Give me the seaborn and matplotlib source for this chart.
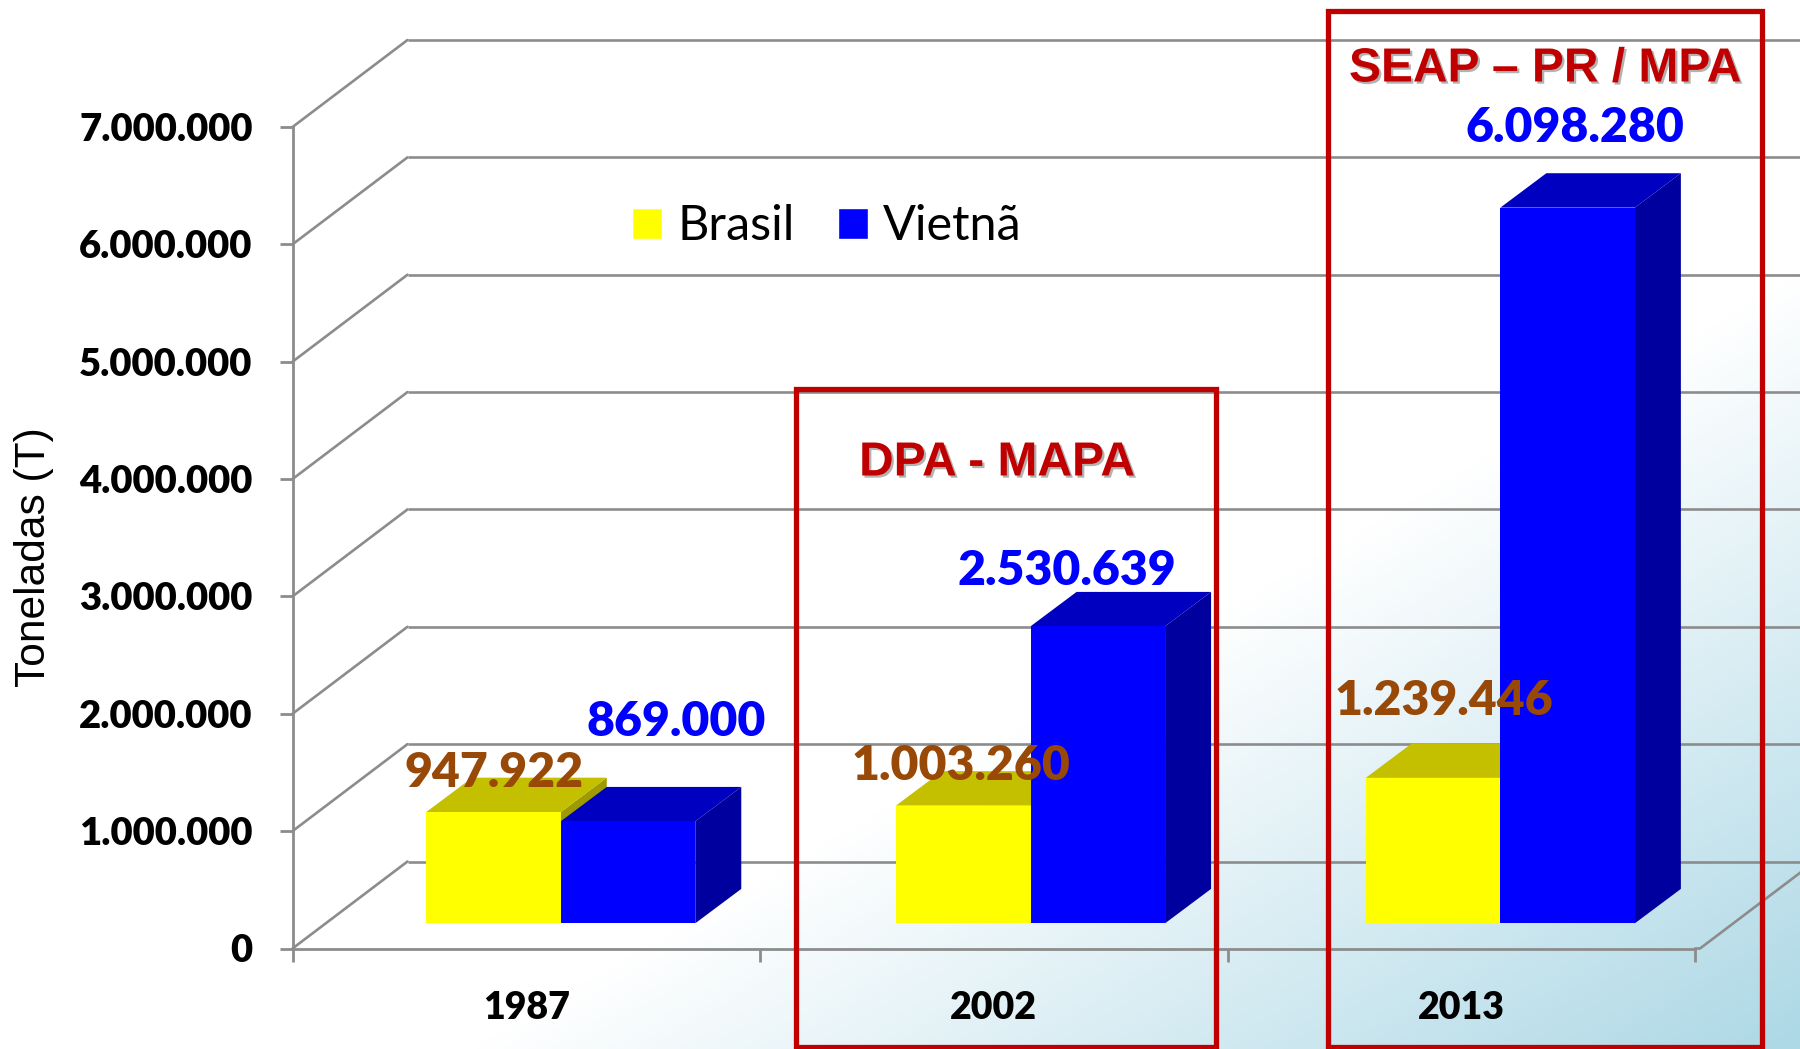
import numpy as np
import pandas as pd
import seaborn as sns
import matplotlib
matplotlib.use("Agg")
import matplotlib.pyplot as plt
import matplotlib.patheffects as pe
from matplotlib.patches import Polygon, Rectangle
from matplotlib.lines import Line2D
from matplotlib.transforms import Affine2D, IdentityTransform
from matplotlib.colors import LinearSegmentedColormap

# ---- data ----
years = ["1987", "2002", "2013"]
brasil = [947922, 1003260, 1239446]
vietna = [869000, 2530639, 6098280]
series_names = ["Brasil", "Vietnã"]
y_ticks = [0, 1000000, 2000000, 3000000, 4000000, 5000000, 6000000, 7000000]
y_title = "Toneladas (T)"
box_titles = ["DPA - MAPA", "SEAP – PR / MPA"]

# ---- style ----
W, H = 1800, 1049
sns.set_theme(style="white")
plt.rcParams["font.family"] = ["Lato", "DejaVu Sans"]
GRID = "#8C8C8C"
RED = "#C00000"
BROWN = "#984807"
BLUE = "#0000FF"
YEL = "#FFFF00"
HEAVY = "heavy"
FACE_DARK = {"#FFFF00": ("#C4C000", "#9E9B00"), "#0000FF": ("#0000C0", "#00009E")}

fig = plt.figure(figsize=(W / 100, H / 100), dpi=100)


def px(x, y):
    """reference pixel (from top-left) -> display coordinates"""
    return x, H - y


# background gradient
bg = fig.add_axes([0, 0, 1, 1], zorder=0)
xx, yy = np.meshgrid(np.linspace(0, 1, 450), np.linspace(0, 1, 262))
t = np.clip(((xx + yy) / 2 - 0.63) / 0.37, 0, 1)
cmap = LinearSegmentedColormap.from_list("bg", ["#FFFFFF", "#ADD8E6"])
bg.imshow(t, cmap=cmap, extent=(0, 1, 1, 0), aspect="auto", vmin=0, vmax=1)
bg.axis("off")

# main axes = front plane of the 3-D box
L, R, T, B = 292.5, 1695, 127, 948.5
ax = fig.add_axes([L / W, 1 - B / H, (R - L) / W, (B - T) / H], zorder=1)
ax.patch.set_alpha(0)

df = pd.DataFrame({
    "Ano": years * 2,
    "Toneladas": brasil + vietna,
    "País": [series_names[0]] * 3 + [series_names[1]] * 3,
})
sns.barplot(data=df, x="Ano", y="Toneladas", hue="País", order=years,
            hue_order=series_names, palette=[YEL, BLUE], saturation=1,
            width=0.5755, gap=0, ax=ax, edgecolor="none", linewidth=0)
ax.set_xlim(-0.5, 2.5)
ax.set_ylim(0, 7000000)
ax.set_yticks(y_ticks)
ax.set_yticklabels([f"{v:,}".replace(",", ".") for v in y_ticks],
                   fontsize=27.5, fontweight=HEAVY, color="black")
ax.set_xticks([-0.5, 0.5, 1.5, 2.5], minor=False)
ax.set_xticklabels([])
ax.set_xticks([0, 1, 2], minor=True)
ax.set_xticklabels(years, minor=True, fontsize=27, fontweight=HEAVY, color="black")
ax.tick_params(axis="x", which="major", length=9.4, width=2, color=GRID, bottom=True)
ax.tick_params(axis="x", which="minor", length=0, pad=30.5, bottom=True)
ax.tick_params(axis="y", length=9.4, width=2, color=GRID, pad=19.3, left=True)
ax.set_xlabel("")
ax.set_ylabel(y_title, fontsize=30.6, family="Liberation Sans", color="black")
ax.yaxis.set_label_coords((54 - L) / (R - L), (B - 557.5) / (B - T))
for s in ("top", "right"):
    ax.spines[s].set_visible(False)
for s in ("left", "bottom"):
    ax.spines[s].set_color(GRID)
    ax.spines[s].set_linewidth(2)

# 3-D wall geometry
DEPTH_X, DEPTH_Y = 115, 87          # front plane -> back wall
BAR_X, BAR_Y = 34.5, 25.2           # front plane -> bar front face
BAR_STEP = 2.3                      # bars are spaced slightly wider than the ticks
TOP_X, TOP_Y = 46, 34.4             # bar depth
ident = IdentityTransform()
wall = ax.transData + Affine2D().translate(DEPTH_X, DEPTH_Y)

ax.hlines(y_ticks, -0.5, 3.5, transform=wall, colors=GRID, lw=1.9, clip_on=False, zorder=1)
for v in y_ticks:
    x0, y0 = ax.transData.transform((-0.5, v))
    ax.add_line(Line2D([x0, x0 + DEPTH_X], [y0, y0 + DEPTH_Y], transform=ident,
                       color=GRID, lw=1.9, clip_on=False, zorder=1))
cx, cy = px(1700, B)
ax.add_line(Line2D([R, cx, cx + DEPTH_X], [cy, cy, cy + DEPTH_Y], transform=ident,
                   color=GRID, lw=1.9, clip_on=False, zorder=1))

# bars with depth faces
z = 3.0
for cont in ax.containers[:2]:
    for i, rect in enumerate(cont):
        col = matplotlib.colors.to_hex(rect.get_facecolor()).upper()
        top_c, side_c = FACE_DARK[col]
        bars = ax.transData + Affine2D().translate(BAR_X + BAR_STEP * i, BAR_Y)
        x0, y0 = bars.transform((rect.get_x(), 0))
        x1, y1 = bars.transform((rect.get_x() + rect.get_width(), rect.get_height()))
        side = [(x1, y0), (x1 + TOP_X, y0 + TOP_Y), (x1 + TOP_X, y1 + TOP_Y), (x1, y1)]
        top = [(x0, y1), (x1, y1), (x1 + TOP_X, y1 + TOP_Y), (x0 + TOP_X, y1 + TOP_Y)]
        ax.add_patch(Polygon(side, transform=ident, fc=side_c, ec="none", clip_on=False, zorder=z))
        ax.add_patch(Polygon(top, transform=ident, fc=top_c, ec="none", clip_on=False, zorder=z + .01))
        rect.set_transform(bars)
        rect.set_clip_on(False)
        rect.set_zorder(z + .02)
        z += 0.1

# legend
leg_handles = [Rectangle((0, 0), 1, 1, fc=YEL), Rectangle((0, 0), 1, 1, fc=BLUE)]
ax.legend(leg_handles, series_names, ncol=2, frameon=False, fontsize=35,
          loc="center left", bbox_to_anchor=(588.5 / W, 1 - 226.5 / H),
          bbox_transform=fig.transFigure, handlelength=0.62, handleheight=0.62,
          handletextpad=0.31, columnspacing=0.88, labelcolor="black")

# value labels
fmt = lambda v: f"{v:,}".replace(",", ".")
pos_b = [(494, 773), (961, 766), (1444, 701)]
pos_v = [(676, 722), (1067, 571), (1575, 128)]
for v, p in zip(brasil, pos_b):
    fig.text(p[0] / W, 1 - p[1] / H, fmt(v), color=BROWN, fontsize=34.7, fontweight=HEAVY,
             ha="center", va="center", zorder=9)
for v, p in zip(vietna, pos_v):
    fig.text(p[0] / W, 1 - p[1] / H, fmt(v), color=BLUE, fontsize=34.7, fontweight=HEAVY,
             ha="center", va="center", zorder=9)

# red frames + titles
for x0, x1, top_y in [(796, 1216, 389), (1327.5, 1762, 11)]:
    ax.add_patch(Rectangle(px(x0, 1047), x1 - x0, 1047 - top_y, transform=ident, fc="none",
                           ec=RED, lw=3.8, clip_on=False, zorder=8))
shadow = [pe.withSimplePatchShadow(offset=(1.6, -1.6), shadow_rgbFace="#555555", alpha=0.45)]
for s, (x, y) in zip(box_titles, [(997, 463), (1545, 69)]):
    fig.text(x / W, 1 - y / H, s, color=RED, fontsize=34.5, fontweight="bold",
             family="Liberation Sans", ha="center", va="center", zorder=10, path_effects=shadow)

fig.savefig("out.png", dpi=100)
